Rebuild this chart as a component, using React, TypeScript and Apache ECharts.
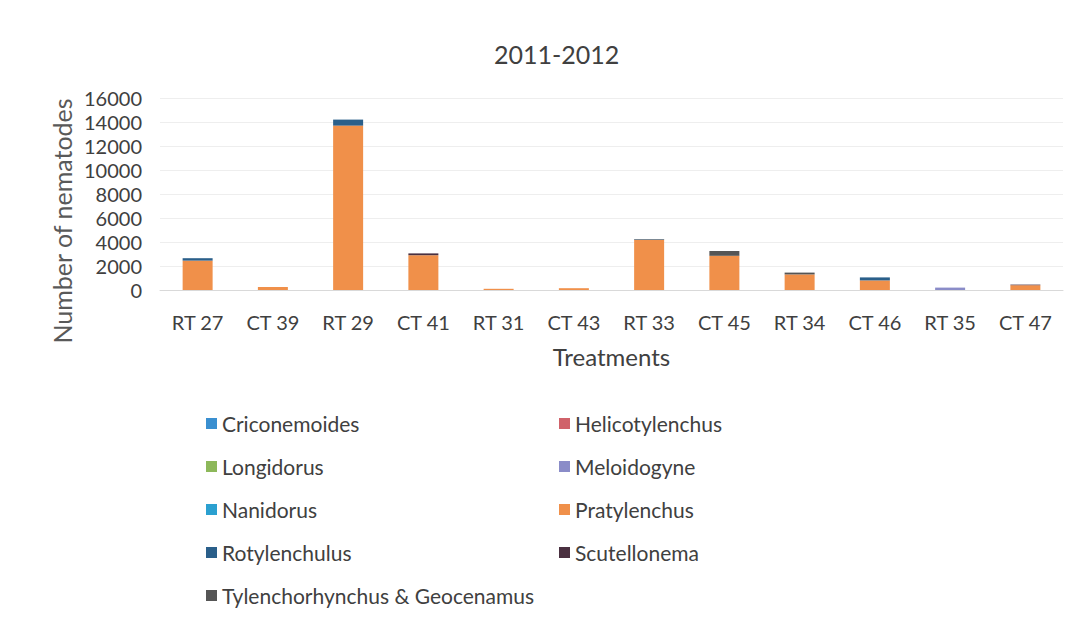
import React, { useEffect, useRef } from "react";
import * as echarts from "echarts";

const categories = ["RT 27", "CT 39", "RT 29", "CT 41", "RT 31", "CT 43", "RT 33", "CT 45", "RT 34", "CT 46", "RT 35", "CT 47"];
const yTicks = [0, 2000, 4000, 6000, 8000, 10000, 12000, 14000, 16000];

const criconemoides = [0, 0, 0, 0, 0, 0, 0, 0, 0, 0, 0, 0];
const helicotylenchus = [0, 0, 0, 0, 0, 0, 0, 0, 0, 0, 0, 0];
const longidorus = [0, 0, 0, 0, 0, 0, 0, 0, 0, 0, 0, 0];
const meloidogyne = [0, 0, 0, 0, 0, 0, 0, 0, 0, 0, 200, 0];
const nanidorus = [0, 0, 0, 0, 0, 0, 0, 0, 0, 0, 0, 0];
const pratylenchus = [2450, 250, 13700, 2900, 100, 150, 4200, 2850, 1300, 800, 0, 400];
const rotylenchulus = [200, 0, 500, 0, 0, 0, 50, 0, 0, 250, 0, 0];
const scutellonema = [0, 0, 0, 150, 0, 0, 0, 0, 0, 0, 0, 50];
const tylenchorhynchus = [0, 0, 0, 0, 0, 0, 0, 400, 150, 0, 0, 0];

const seriesDefs = [
  { name: "Criconemoides", data: criconemoides, color: "#3A8FD0" },
  { name: "Helicotylenchus", data: helicotylenchus, color: "#D0626A" },
  { name: "Longidorus", data: longidorus, color: "#8DB85A" },
  { name: "Meloidogyne", data: meloidogyne, color: "#8A8CC8" },
  { name: "Nanidorus", data: nanidorus, color: "#2BA0D0" },
  { name: "Pratylenchus", data: pratylenchus, color: "#F0904A" },
  { name: "Rotylenchulus", data: rotylenchulus, color: "#2A5F8A" },
  { name: "Scutellonema", data: scutellonema, color: "#4A3040" },
  { name: "Tylenchorhynchus & Geocenamus", data: tylenchorhynchus, color: "#555555" },
];

// legend layout: [name, column, row]
const legendLayout: [string, number, number][] = [
  ["Criconemoides", 0, 0],
  ["Helicotylenchus", 1, 0],
  ["Longidorus", 0, 1],
  ["Meloidogyne", 1, 1],
  ["Nanidorus", 0, 2],
  ["Pratylenchus", 1, 2],
  ["Rotylenchulus", 0, 3],
  ["Scutellonema", 1, 3],
  ["Tylenchorhynchus & Geocenamus", 0, 4],
];

const FONT = "Lato, 'Open Sans', sans-serif";

export default function App() {
  const ref = useRef<HTMLDivElement>(null);
  useEffect(() => {
    if (!ref.current) return;
    const chart = echarts.init(ref.current, null, { renderer: "svg" });
    const colX = [206, 559];
    const rowY = [425, 468, 511, 554, 597];
    const legends = legendLayout.map(([name, c, r]) => ({
      data: [name],
      left: colX[c],
      top: rowY[r] - 12,
      padding: 0,
      itemWidth: 11,
      itemHeight: 11,
      icon: "rect",
      selectedMode: false,
      textStyle: { fontFamily: FONT, fontSize: 21, color: "#404040" },
    }));
    chart.setOption({
      animation: false,
      backgroundColor: "#ffffff",
      title: {
        text: "2011-2012",
        left: 489,
        top: 36,
        textStyle: { fontFamily: FONT, fontSize: 25, fontWeight: "normal", color: "#404040" },
      },
      legend: legends,
      grid: { left: 160, right: 19, top: 98, bottom: 333, containLabel: false },
      xAxis: {
        type: "category",
        data: categories,
        name: "Treatments",
        nameLocation: "middle",
        nameGap: 54,
        nameTextStyle: { fontFamily: FONT, fontSize: 24, color: "#404040" },
        axisTick: { show: false },
        axisLine: { lineStyle: { color: "#d9d9d9" } },
        axisLabel: { fontFamily: FONT, fontSize: 20, color: "#404040", margin: 22 },
      },
      yAxis: {
        type: "value",
        min: 0,
        max: 16000,
        interval: 2000,
        axisLabel: { fontFamily: FONT, fontSize: 20, color: "#404040", margin: 18, formatter: (v: number) => (yTicks.includes(v) ? String(v) : "") },
        splitLine: { lineStyle: { color: "#eeeeee" } },
        axisLine: { show: false },
        axisTick: { show: false },
      },
      graphic: [
        {
          type: "text",
          x: 62,
          y: 221,
          rotation: Math.PI / 2,
          style: {
            text: "Number of nematodes",
            fontFamily: FONT,
            fontSize: 25,
            fill: "#595959",
            align: "center",
            verticalAlign: "middle",
          },
        },
      ],
      series: seriesDefs.map((s) => ({
        name: s.name,
        type: "bar",
        stack: "total",
        barWidth: 30,
        data: s.data,
        itemStyle: { color: s.color },
      })),
    });
    return () => chart.dispose();
  }, []);
  return <div ref={ref} style={{ position: "fixed", left: 0, top: 0, width: 1082, height: 623 }} />;
}
